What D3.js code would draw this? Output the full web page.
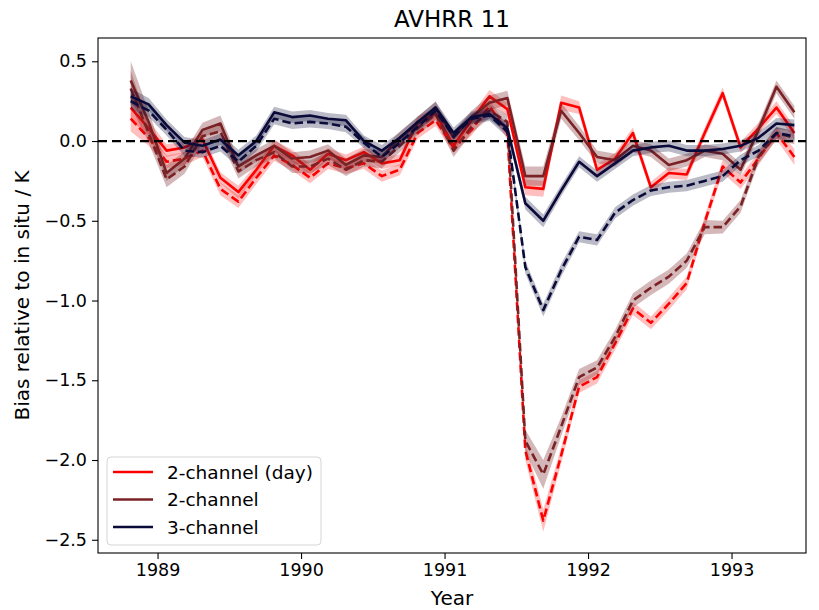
<!DOCTYPE html>
<html>
<head>
<meta charset="utf-8">
<script src="https://cdn.jsdelivr.net/npm/d3@7"></script>
<style>
  html, body { margin: 0; padding: 0; background: #fff; }
  svg text { font-family: "DejaVu Sans", sans-serif; fill: #000; }
</style>
</head>
<body>
<svg id="chart" width="819" height="610"></svg>
<script>
// Sample times (decimal year)
const years = [
  1988.813, 1988.938, 1989.063, 1989.188, 1989.313, 1989.438, 1989.563, 1989.688, 1989.813, 1989.938,
  1990.063, 1990.188, 1990.313, 1990.438, 1990.563, 1990.688, 1990.813, 1990.938, 1991.063, 1991.188,
  1991.313, 1991.438, 1991.563, 1991.688, 1991.813, 1991.938, 1992.063, 1992.188, 1992.313, 1992.438,
  1992.563, 1992.688, 1992.813, 1992.938, 1993.063, 1993.188, 1993.313, 1993.438
];

// 2-channel (day): solid and dashed retrievals
const day2Solid = [
  0.21, 0.08, -0.06, -0.04, 0.01, -0.23, -0.32, -0.18, -0.03, -0.09,
  -0.18, -0.08, -0.12, -0.07, -0.14, -0.12, 0.12, 0.17, -0.03, 0.13,
  0.28, 0.20, -0.29, -0.30, 0.24, 0.21, -0.18, -0.11, 0.05, -0.29,
  -0.20, -0.21, 0.05, 0.30, -0.04, 0.08, 0.21, 0.05
];
const day2Dashed = [
  0.14, 0.02, -0.13, -0.11, -0.06, -0.30, -0.38, -0.23, -0.09, -0.15,
  -0.23, -0.14, -0.17, -0.14, -0.22, -0.18, 0.05, 0.13, -0.04, 0.07,
  0.22, 0.05, -1.94, -2.38, -1.97, -1.54, -1.48, -1.27, -1.05, -1.14,
  -1.02, -0.89, -0.51, -0.16, -0.26, -0.11, 0.05, -0.10
];
// 2-channel
const ch2Solid = [
  0.38, 0.12, -0.20, -0.11, 0.07, 0.11, -0.16, -0.09, -0.03, -0.11,
  -0.10, -0.06, -0.15, -0.09, -0.10, 0.02, 0.11, 0.21, 0.02, 0.15,
  0.24, 0.27, -0.22, -0.22, 0.19, 0.05, -0.10, -0.12, -0.03, -0.06,
  -0.15, -0.12, -0.06, -0.08, -0.18, 0.07, 0.34, 0.18
];
const ch2Dashed = [
  0.33, 0.05, -0.24, -0.16, 0.03, 0.06, -0.19, -0.12, -0.07, -0.16,
  -0.16, -0.11, -0.18, -0.12, -0.13, -0.03, 0.08, 0.17, -0.06, 0.09,
  0.19, 0.12, -1.88, -2.09, -1.79, -1.48, -1.42, -1.23, -1.00, -0.92,
  -0.85, -0.75, -0.54, -0.54, -0.41, -0.10, 0.05, 0.02
];
// 3-channel
const ch3Solid = [
  0.28, 0.23, 0.10, -0.01, -0.03, 0.01, -0.09, 0.00, 0.18, 0.15,
  0.16, 0.14, 0.13, 0.00, -0.06, 0.02, 0.12, 0.21, 0.05, 0.15,
  0.17, 0.08, -0.39, -0.50, -0.31, -0.13, -0.22, -0.14, -0.06, -0.04,
  -0.03, -0.06, -0.06, -0.05, -0.03, 0.02, 0.11, 0.10
];
const ch3Dashed = [
  0.25, 0.19, 0.07, -0.06, -0.07, -0.03, -0.13, -0.03, 0.14, 0.11,
  0.12, 0.11, 0.09, -0.01, -0.10, -0.01, 0.09, 0.19, 0.03, 0.14,
  0.16, 0.06, -0.79, -1.06, -0.81, -0.60, -0.62, -0.45, -0.37, -0.31,
  -0.29, -0.28, -0.25, -0.22, -0.12, -0.06, 0.05, 0.03
];

// Half-widths of the shaded uncertainty bands
const day2SolidErr = [
  0.08, 0.05, 0.04, 0.035, 0.035, 0.035, 0.04, 0.035, 0.035, 0.035,
  0.035, 0.035, 0.035, 0.035, 0.035, 0.035, 0.035, 0.035, 0.035, 0.035,
  0.04, 0.04, 0.05, 0.05, 0.045, 0.04, 0.035, 0.035, 0.035, 0.035,
  0.035, 0.035, 0.035, 0.035, 0.035, 0.035, 0.04, 0.04
];
const day2DashedErr = [
  0.08, 0.05, 0.04, 0.04, 0.04, 0.04, 0.04, 0.04, 0.035, 0.035,
  0.035, 0.035, 0.035, 0.035, 0.035, 0.035, 0.035, 0.035, 0.035, 0.035,
  0.04, 0.04, 0.06, 0.07, 0.05, 0.04, 0.04, 0.04, 0.04, 0.04,
  0.04, 0.04, 0.04, 0.04, 0.04, 0.04, 0.04, 0.05
];
const ch2SolidErr = [
  0.12, 0.07, 0.05, 0.045, 0.045, 0.05, 0.045, 0.04, 0.04, 0.04,
  0.04, 0.04, 0.04, 0.04, 0.04, 0.04, 0.04, 0.04, 0.04, 0.04,
  0.045, 0.045, 0.06, 0.06, 0.05, 0.045, 0.04, 0.04, 0.04, 0.04,
  0.04, 0.04, 0.04, 0.04, 0.04, 0.04, 0.04, 0.04
];
const ch2DashedErr = [
  0.11, 0.06, 0.05, 0.045, 0.045, 0.05, 0.045, 0.04, 0.04, 0.04,
  0.04, 0.04, 0.04, 0.04, 0.04, 0.04, 0.04, 0.04, 0.04, 0.04,
  0.045, 0.045, 0.07, 0.09, 0.06, 0.05, 0.045, 0.045, 0.045, 0.045,
  0.045, 0.045, 0.045, 0.04, 0.04, 0.04, 0.04, 0.04
];
const ch3SolidErr = [
  0.05, 0.04, 0.035, 0.035, 0.035, 0.035, 0.035, 0.035, 0.035, 0.035,
  0.035, 0.035, 0.035, 0.035, 0.035, 0.035, 0.035, 0.035, 0.035, 0.035,
  0.035, 0.035, 0.04, 0.04, 0.035, 0.035, 0.035, 0.035, 0.035, 0.035,
  0.035, 0.035, 0.035, 0.035, 0.035, 0.035, 0.035, 0.035
];
const ch3DashedErr = [
  0.05, 0.04, 0.035, 0.035, 0.035, 0.035, 0.035, 0.035, 0.035, 0.035,
  0.035, 0.035, 0.035, 0.035, 0.035, 0.035, 0.035, 0.035, 0.035, 0.035,
  0.035, 0.035, 0.04, 0.04, 0.04, 0.035, 0.035, 0.035, 0.035, 0.035,
  0.035, 0.035, 0.035, 0.035, 0.035, 0.035, 0.035, 0.035
];

const seriesNames = ["2-channel (day)", "2-channel", "3-channel"];
const seriesColors = ["#ff0000", "#7a2226", "#0b0b3a"];
const bandOpacity = [0.25, 0.32, 0.28];

const xTicks = [1989, 1990, 1991, 1992, 1993];
const yTicks = [0.5, 0.0, -0.5, -1.0, -1.5, -2.0, -2.5];

const titleText = "AVHRR 11";
const xLabel = "Year";
const yLabel = "Bias relative to in situ / K";

// Layout
const svg = d3.select("#chart");
const plot = { left: 98, right: 806, top: 38, bottom: 553 };
const tickFont = "17.5px";
const labelFont = "20px";

const x = d3.scaleLinear().domain([1988.585, 1993.519]).range([plot.left, plot.right]);
const y = d3.scaleLinear().domain([-2.583, 0.646]).range([plot.bottom, plot.top]);

svg.append("defs").append("clipPath").attr("id", "plotClip")
  .append("rect")
  .attr("x", plot.left).attr("y", plot.top)
  .attr("width", plot.right - plot.left).attr("height", plot.bottom - plot.top);

const g = svg.append("g").attr("clip-path", "url(#plotClip)");

// One entry per plotted curve: colour index, values, errors, dashed?
const curves = [
  { c: 0, v: day2Solid,  e: day2SolidErr,  dashed: false },
  { c: 0, v: day2Dashed, e: day2DashedErr, dashed: true },
  { c: 1, v: ch2Solid,   e: ch2SolidErr,   dashed: false },
  { c: 1, v: ch2Dashed,  e: ch2DashedErr,  dashed: true },
  { c: 2, v: ch3Solid,   e: ch3SolidErr,   dashed: false },
  { c: 2, v: ch3Dashed,  e: ch3DashedErr,  dashed: true }
];

const area = d3.area()
  .x(d => x(d.t))
  .y0(d => y(d.v - d.e))
  .y1(d => y(d.v + d.e));
const line = d3.line()
  .x(d => x(d.t))
  .y(d => y(d.v));

curves.forEach(cv => {
  const pts = years.map((t, i) => ({ t, v: cv.v[i], e: cv.e[i] }));
  g.append("path")
    .attr("d", area(pts))
    .attr("fill", seriesColors[cv.c])
    .attr("fill-opacity", bandOpacity[cv.c])
    .attr("stroke", "none");
  g.append("path")
    .attr("d", line(pts))
    .attr("fill", "none")
    .attr("stroke", seriesColors[cv.c])
    .attr("stroke-width", 2.6)
    .attr("stroke-linejoin", "round")
    .attr("stroke-dasharray", cv.dashed ? "8.5,4" : null);
});

// Zero reference line
g.append("line")
  .attr("x1", plot.left).attr("x2", plot.right)
  .attr("y1", y(0)).attr("y2", y(0))
  .attr("stroke", "#000")
  .attr("stroke-width", 2.2)
  .attr("stroke-dasharray", "9,5");

// Axes
const xAxis = d3.axisBottom(x).tickValues(xTicks).tickFormat(d3.format("d")).tickSize(6).tickPadding(5);
const yAxis = d3.axisLeft(y).tickValues(yTicks)
  .tickFormat(d => d3.format(".1f")(d).replace("-", "\u2212")).tickSize(6).tickPadding(5);

const gx = svg.append("g").attr("transform", `translate(0,${plot.bottom})`).call(xAxis);
const gy = svg.append("g").attr("transform", `translate(${plot.left},0)`).call(yAxis);
[gx, gy].forEach(a => {
  a.selectAll("text").style("font-size", tickFont).style("font-family", "DejaVu Sans");
  a.selectAll(".tick line").attr("stroke", "#000").attr("stroke-width", 1.1);
  a.select(".domain").remove();
});

// Frame
svg.append("rect")
  .attr("x", plot.left).attr("y", plot.top)
  .attr("width", plot.right - plot.left).attr("height", plot.bottom - plot.top)
  .attr("fill", "none").attr("stroke", "#000").attr("stroke-width", 1.1);

// Titles
svg.append("text")
  .attr("x", (plot.left + plot.right) / 2).attr("y", 27)
  .attr("text-anchor", "middle")
  .style("font-size", "23px")
  .text(titleText);

svg.append("text")
  .attr("x", (plot.left + plot.right) / 2).attr("y", 605)
  .attr("text-anchor", "middle")
  .style("font-size", labelFont)
  .text(xLabel);

svg.append("text")
  .attr("transform", `translate(29,${(plot.top + plot.bottom) / 2}) rotate(-90)`)
  .attr("text-anchor", "middle")
  .style("font-size", labelFont)
  .text(yLabel);

// Legend
const lg = svg.append("g").attr("transform", "translate(107,457)");
lg.append("rect")
  .attr("width", 214).attr("height", 88).attr("rx", 4)
  .attr("fill", "#fff").attr("fill-opacity", 0.85)
  .attr("stroke", "#d5d5d5").attr("stroke-width", 1);
seriesNames.forEach((name, i) => {
  const yy = 15 + i * 27.5;
  lg.append("line")
    .attr("x1", 6).attr("x2", 46).attr("y1", yy).attr("y2", yy)
    .attr("stroke", seriesColors[i]).attr("stroke-width", 2.6);
  lg.append("text")
    .attr("x", 60).attr("y", yy + 6.5)
    .style("font-size", "18.5px")
    .text(name);
});
</script>
</body>
</html>
